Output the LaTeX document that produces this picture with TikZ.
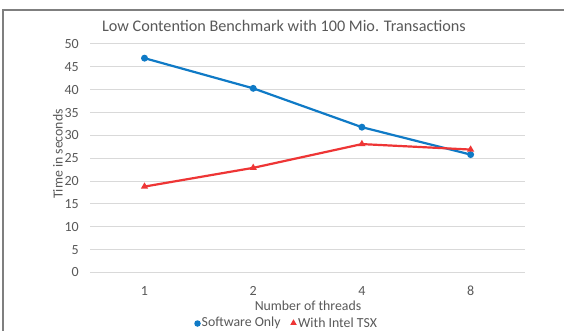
\documentclass[tikz,border=0pt]{standalone}
\usepackage{fontspec}
\setmainfont{Carlito}
\definecolor{txtgray}{HTML}{595959}
\definecolor{gridgray}{HTML}{D9D9D9}
\definecolor{frame}{HTML}{7F7F7F}
\definecolor{swblue}{HTML}{0F7AC6}
\definecolor{tsxred}{HTML}{EE3535}
\tikzset{
  x=1pt, y=-1pt,
  grid/.style={draw=gridgray, line width=1pt},
  ticklab/.style={text=txtgray, font=\fontsize{14}{14}\selectfont, inner sep=0pt},
  axlab/.style={text=txtgray, font=\fontsize{13.8}{13.8}\selectfont, inner sep=0pt},
  swline/.style={draw=swblue, line width=2.2pt},
  tsxline/.style={draw=tsxred, line width=2.2pt},
  swmark/.style={circle, fill=swblue, minimum size=7pt, inner sep=0pt},
  tsxmark/.style={regular polygon, regular polygon sides=3, fill=tsxred, minimum size=8.5pt, inner sep=0pt},
}
\usetikzlibrary{shapes.geometric}
\begin{document}
\begin{tikzpicture}
\useasboundingbox (0,0) rectangle (564,331);
\fill[white] (0,0) rectangle (564,331);
% frame
\draw[frame, line width=1.5pt] (3,331) -- (3,10) -- (564,10);
% title
\node[text=txtgray, font=\fontsize{16.2}{16.2}\selectfont, inner sep=0pt] (title) at (284,25.5) {Low Contention Benchmark with 100 Mio. Transactions};
% gridlines and y ticks
\foreach \v in {0,5,...,50} {
  \pgfmathsetmacro{\yy}{272.5-\v*4.57}
  \draw[grid] (90,\yy) -- (525,\yy);
  \node[ticklab, anchor=east] (y\v) at (79,\yy) {\v};
}
% x ticks
\node[ticklab] (x1) at (144.5,291) {1};
\node[ticklab] (x2) at (253.2,291) {2};
\node[ticklab] (x4) at (361.9,291) {4};
\node[ticklab] (x8) at (470.6,291) {8};
% axis labels
\node[axlab, rotate=90] (ylab) at (58,154) {Time in seconds};
\node[axlab] (xlab) at (308,306) {Number of threads};
% data
\coordinate (s1) at (144.5,{272.5-46.9*4.57});
\coordinate (s2) at (253.2,{272.5-40.3*4.57});
\coordinate (s4) at (361.9,{272.5-31.8*4.57});
\coordinate (s8) at (470.6,{272.5-25.8*4.57});
\coordinate (t1) at (144.5,{272.5-18.8*4.57});
\coordinate (t2) at (253.2,{272.5-22.9*4.57});
\coordinate (t4) at (361.9,{272.5-28.1*4.57});
\coordinate (t8) at (470.6,{272.5-26.9*4.57});
\draw[swline] (s1) -- (s2) -- (s4) -- (s8);
\draw[tsxline] (t1) -- (t2) -- (t4) -- (t8);
\foreach \p in {s1,s2,s4,s8} \node[swmark] at (\p) {};
\foreach \p in {t1,t2,t4,t8} \node[tsxmark] at (\p) {};
% legend
\node[swmark, minimum size=6.5pt] (lsw) at (197.5,323.5) {};
\node[axlab, anchor=west] (lswt) at (201.5,323) {Software Only};
\node[tsxmark, minimum size=7.5pt] (ltsx) at (293.5,323) {};
\node[axlab, anchor=west] (ltsxt) at (298,323) {With Intel TSX};
\end{tikzpicture}
\end{document}
